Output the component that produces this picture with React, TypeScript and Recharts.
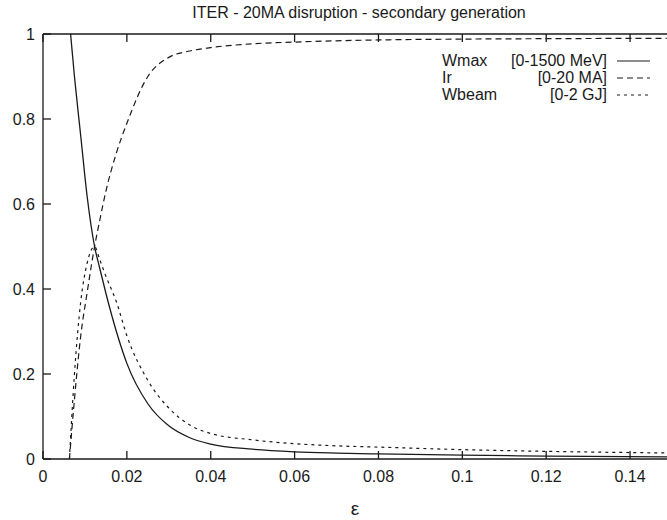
import { LineChart, Line, XAxis, YAxis, Legend } from "recharts";

// epsilon grid shared by the three normalised curves
const eps = [0.0063, 0.0075, 0.009, 0.0105, 0.0123, 0.0135, 0.015, 0.0175, 0.02, 0.025, 0.03, 0.035, 0.04, 0.05, 0.06, 0.07, 0.08, 0.1, 0.12, 0.15];
const wmax = [1.03, 0.9, 0.76, 0.62, 0.5, 0.45, 0.39, 0.3, 0.225, 0.13, 0.078, 0.05, 0.035, 0.023, 0.017, 0.014, 0.012, 0.009, 0.007, 0.005];
const ir = [0, 0.14, 0.29, 0.39, 0.5, 0.56, 0.63, 0.72, 0.79, 0.9, 0.945, 0.96, 0.968, 0.977, 0.981, 0.984, 0.986, 0.988, 0.989, 0.99];
const wbeam = [0, 0.2, 0.37, 0.46, 0.5, 0.47, 0.43, 0.37, 0.29, 0.185, 0.12, 0.08, 0.06, 0.045, 0.036, 0.031, 0.028, 0.022, 0.018, 0.014];

const xTicks = [0, 0.02, 0.04, 0.06, 0.08, 0.1, 0.12, 0.14];
const yTicks = [0, 0.2, 0.4, 0.6, 0.8, 1];

const legendRows = [
  { name: "Wmax", range: "[0-1500 MeV]", dash: "" },
  { name: "Ir", range: "[0-20 MA]", dash: "6 4" },
  { name: "Wbeam", range: "[0-2 GJ]", dash: "3 4" },
];

const data = eps.map((e, i) => ({ eps: e, wmax: wmax[i], ir: ir[i], wbeam: wbeam[i] }));

const font = "'Liberation Sans', Arial, sans-serif";
const ink = "#1a1a1a";
const TICK = 8;
const CHART_H = 520;
const TOP = 34; // plot top (margin 4 + top axis 30)
const BOTTOM_AXIS_H = 61;
const PLOT_H = CHART_H - TOP - BOTTOM_AXIS_H;

function KeyBox() {
  return (
    <div style={{ width: 208, fontFamily: font, fontSize: 16, color: ink }}>
      {legendRows.map((r) => (
        <div key={r.name} style={{ display: "flex", alignItems: "center", height: 17, lineHeight: "17px" }}>
          <span>{r.name}</span>
          <span style={{ flex: 1, textAlign: "right" }}>{r.range}</span>
          <svg width={33} height={10} style={{ marginLeft: 10 }}>
            <line x1={0} y1={5} x2={33} y2={5} stroke={ink} strokeWidth={1.2} strokeDasharray={r.dash || undefined} />
          </svg>
        </div>
      ))}
    </div>
  );
}

// gnuplot style: tick marks point into the plot, mirrored on the top border
function BottomTick(props: any) {
  const { x, y, payload } = props;
  const axisY = Number(y) - 12;
  const topY = axisY - PLOT_H;
  return (
    <g>
      <path d={`M${x},${axisY}V${axisY - TICK}`} stroke={ink} strokeWidth={1.3} fill="none" />
      <path d={`M${x},${topY}V${topY + TICK}`} stroke={ink} strokeWidth={1.3} fill="none" />
      <text x={x} y={y} dy="0.71em" textAnchor="middle" fontFamily={font} fontSize={16} fill={ink}>
        {payload.value}
      </text>
    </g>
  );
}

function LeftTick(props: any) {
  const { x, y, payload } = props;
  const axisX = Number(x) + 8;
  return (
    <g>
      <path d={`M${axisX},${y}H${axisX + TICK}`} stroke={ink} strokeWidth={1.3} fill="none" />
      <text x={x} y={y} dy="0.355em" textAnchor="end" fontFamily={font} fontSize={16} fill={ink}>
        {payload.value}
      </text>
    </g>
  );
}

export default function App() {
  return (
    <div style={{ position: "absolute", top: 0, left: 0, width: 667, height: CHART_H, overflow: "hidden", background: "#fff" }}>
      <div
        style={{
          position: "absolute", top: 4, left: 359, transform: "translateX(-50%)",
          whiteSpace: "nowrap", fontFamily: font, fontSize: 16, lineHeight: "18px", color: ink,
        }}
      >
        ITER - 20MA disruption - secondary generation
      </div>
      <LineChart width={672} height={CHART_H} data={data} margin={{ top: 4, right: 0, bottom: 0, left: 0 }}>
        <XAxis
          dataKey="eps"
          type="number"
          domain={[0, 0.15]}
          ticks={xTicks}
          tickLine={false}
          tickSize={0}
          tickMargin={12}
          height={BOTTOM_AXIS_H}
          tick={<BottomTick />}
          stroke={ink}
          strokeWidth={1.3}
        />
        <XAxis
          xAxisId="top"
          orientation="top"
          dataKey="eps"
          type="number"
          domain={[0, 0.15]}
          allowDataOverflow
          tickLine={false}
          tick={false}
          height={30}
          stroke={ink}
          strokeWidth={1.3}
        />
        <YAxis
          type="number"
          domain={[0, 1]}
          allowDataOverflow
          ticks={yTicks}
          tickLine={false}
          tickSize={0}
          tickMargin={8}
          width={43}
          tick={<LeftTick />}
          stroke={ink}
          strokeWidth={1.3}
        />
        <Legend
          layout="horizontal"
          verticalAlign="middle"
          align="center"
          content={() => <KeyBox />}
          wrapperStyle={{ position: "absolute", top: 52, left: 442, width: 208 }}
        />
        <Line type="monotone" dataKey="wmax" stroke={ink} strokeWidth={1.3} dot={false} isAnimationActive={false} />
        <Line type="monotone" dataKey="ir" stroke={ink} strokeWidth={1.2} strokeDasharray="6 4" dot={false} isAnimationActive={false} />
        <Line type="monotone" dataKey="wbeam" stroke={ink} strokeWidth={1.2} strokeDasharray="3 4" dot={false} isAnimationActive={false} />
      </LineChart>
      <div
        style={{
          position: "absolute", top: 499, left: 355, transform: "translateX(-50%)",
          fontFamily: font, fontSize: 19, lineHeight: "20px", color: ink,
        }}
      >
        ε
      </div>
    </div>
  );
}
